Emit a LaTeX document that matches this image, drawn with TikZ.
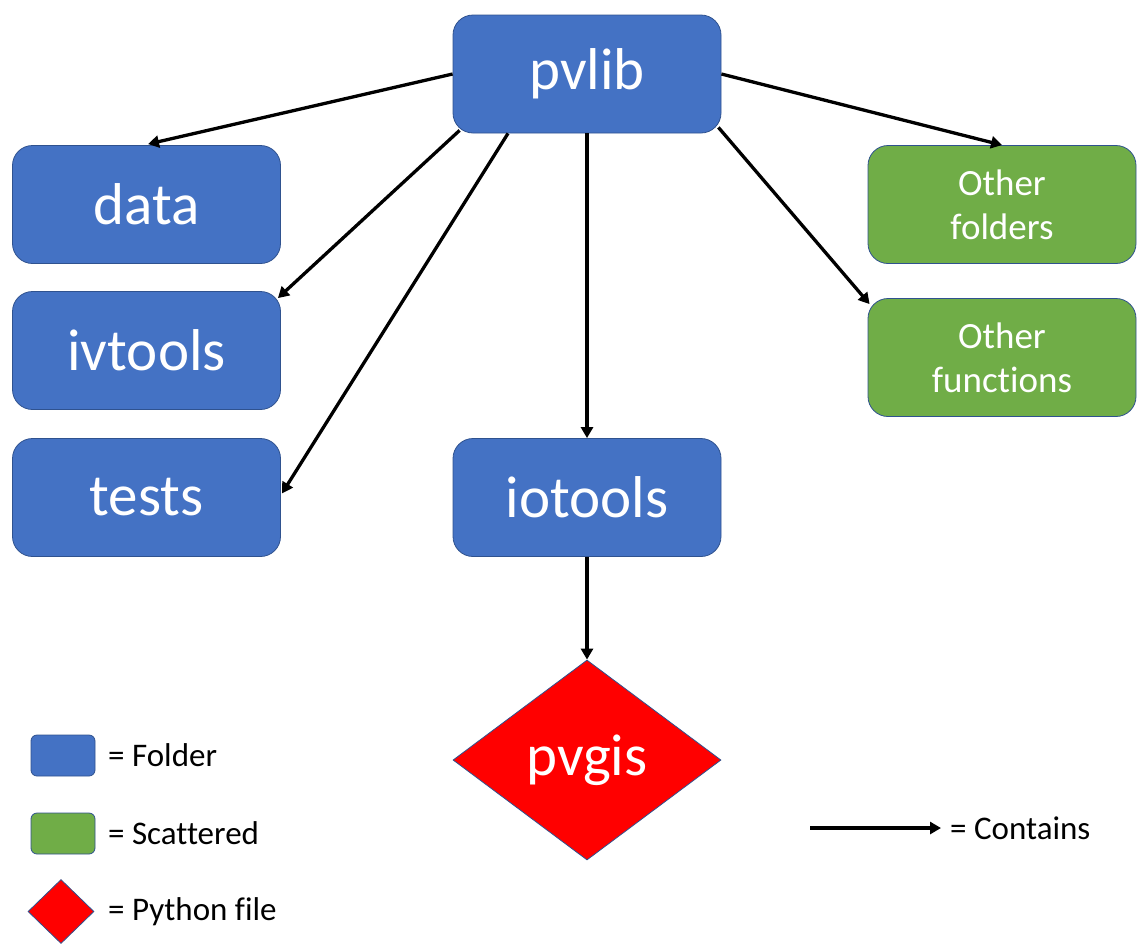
\documentclass[tikz,border=0pt]{standalone}
\usepackage{fontspec}
\setmainfont{Carlito}[Ligatures=NoCommon]
\usetikzlibrary{shapes.geometric,arrows.meta,calc}
\definecolor{fblue}{HTML}{4472C4}
\definecolor{fgreen}{HTML}{70AD47}
\definecolor{fred}{HTML}{FF0000}
\definecolor{fborder}{HTML}{2F528F}
\tikzset{
  folder/.style={draw=fborder, line width=0.8pt, fill=fblue, rounded corners=20pt,
    minimum width=268pt, minimum height=118pt, text=white, font=\fontsize{59}{64}\selectfont, inner sep=0pt},
  scattered/.style={draw=fborder, line width=0.8pt, fill=fgreen, rounded corners=20pt,
    minimum width=268pt, minimum height=118pt, text=white, align=center,
    font=\fontsize{37}{44}\selectfont, inner sep=0pt},
  pyfile/.style={diamond, draw=fborder, line width=0.8pt, fill=fred, aspect=1.34,
    minimum width=268pt, minimum height=200pt, text=white, font=\fontsize{59}{64}\selectfont, inner sep=0pt},
  legfolder/.style={draw=fborder, line width=0.8pt, fill=fblue, rounded corners=6pt,
    minimum width=64pt, minimum height=41pt, inner sep=0pt},
  legscat/.style={draw=fborder, line width=0.8pt, fill=fgreen, rounded corners=6pt,
    minimum width=64pt, minimum height=41pt, inner sep=0pt},
  legpy/.style={diamond, draw=fborder, line width=0.8pt, fill=fred, aspect=1.03,
    minimum width=66pt, minimum height=64pt, inner sep=0pt},
  legtext/.style={anchor=west, font=\fontsize{33}{36}\selectfont, inner sep=0pt},
  contains/.style={line width=3.3pt, -{Triangle[length=11pt,width=12pt]}},
}
\begin{document}
\begin{tikzpicture}[x=1pt,y=-1pt]
\useasboundingbox (0,0) rectangle (1137,943);
\node[folder] (pvlib) at (587,74) {pvlib};
\node[folder] (data) at (146.5,204.5) {data};
\node[folder] (ivtools) at (146.5,350.5) {ivtools};
\node[folder] (tests) at (146.5,497.5) {tests};
\node[folder] (iotools) at (587,497.5) {iotools};
\node[scattered] (ofold) at (1002,204.5) {Other\\folders};
\node[scattered] (ofunc) at (1002,357.5) {Other\\functions};
\node[pyfile] (pvgis) at (587,760) {pvgis};

\draw[contains] (pvlib.west) -- ($(data.north)+(1.5,-1)$);
\draw[contains] ($(pvlib.south west)+(7,-3)$) -- ($(ivtools.north east)+(-3,7)$);
\draw[contains] ($(pvlib.south)+(-79,0)$) -- ($(tests.east)+(1,-4)$);
\draw[contains] (pvlib.south) -- (iotools.north);
\draw[contains] (pvlib.east) -- (ofold.north);
\draw[contains] ($(pvlib.south east)+(-3,-6)$) -- ($(ofunc.north west)+(2,6)$);
\draw[contains] (iotools.south) -- (pvgis.north);

\node[legfolder] (lf) at (63,755.5) {};
\node[legscat] (ls) at (63,833.5) {};
\node[legpy] (lp) at (61,911.5) {};
\node[legtext] (lft) at (108,755) {= Folder};
\node[legtext] (lst) at (108,833) {= Scattered};
\node[legtext] (lpt) at (108,912) {= Python file};
\coordinate (ca) at (810,828);
\node[legtext] (ct) at (950,828) {= Contains};
\draw[contains, shorten >=9pt] (ca) -- (ct.west);
\end{tikzpicture}
\end{document}
